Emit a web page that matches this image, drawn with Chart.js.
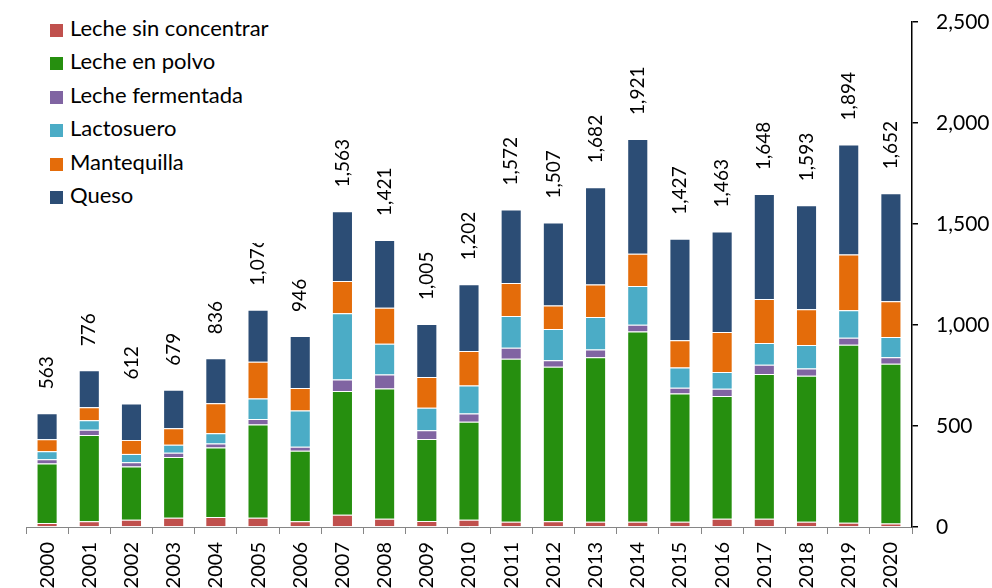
<!DOCTYPE html>
<html>
<head>
<meta charset="utf-8">
<script src="https://cdn.jsdelivr.net/npm/chart.js@4"></script>
<style>
  html, body { margin: 0; padding: 0; background: #fff; overflow: hidden; }
  #wrap { position: relative; width: 992px; height: 588px; }
  #legend {
    position: absolute; left: 44px; top: 6px; width: 236px; height: 237px;
    background: #fff; font-family: Lato, "Open Sans", sans-serif; font-size: 22px; color: #000;
  }
  .item { position: absolute; left: 6px; height: 24px; line-height: 24px; white-space: nowrap; }
  .box { display: inline-block; width: 13px; height: 13px; margin-right: 7px; vertical-align: -1px; }
</style>
</head>
<body>
<div id="wrap">
  <canvas id="barChart" width="992" height="588"></canvas>
  <div id="legend"></div>
</div>
<script>
const years = ["2000", "2001", "2002", "2003", "2004", "2005", "2006", "2007", "2008", "2009", "2010",
               "2011", "2012", "2013", "2014", "2015", "2016", "2017", "2018", "2019", "2020"];

const lecheSinConcentrar = [20, 28, 36, 46, 50, 46, 28, 61, 41, 30, 36, 26, 28, 26, 26, 26, 41, 41, 26, 21, 17];
const lecheEnPolvo = [294, 428, 263, 301, 343, 461, 349, 612, 645, 406, 485, 807, 765, 814, 942, 635, 608, 716, 723, 881, 791];
const lecheFermentada = [21, 25, 22, 20, 20, 28, 20, 57, 69, 43, 41, 54, 32, 39, 33, 28, 35, 46, 36, 35, 32];
const lactosuero = [40, 48, 41, 40, 51, 101, 180, 328, 152, 111, 139, 157, 155, 161, 192, 101, 83, 108, 116, 136, 100];
const mantequilla = [60, 64, 69, 82, 149, 182, 111, 160, 179, 152, 170, 164, 117, 160, 160, 135, 198, 218, 177, 276, 177];
const queso = [128, 183, 181, 190, 223, 258, 258, 345, 335, 263, 331, 364, 410, 482, 568, 502, 498, 519, 515, 545, 535];

const yTicks = [0, 500, 1000, 1500, 2000, 2500];

const seriesNames = ["Leche sin concentrar", "Leche en polvo", "Leche fermentada", "Lactosuero", "Mantequilla", "Queso"];
const seriesColors = ["#C0504D", "#268F0F", "#8064A2", "#4BACC6", "#E46C0A", "#2C4D75"];
const seriesData = [lecheSinConcentrar, lecheEnPolvo, lecheFermentada, lactosuero, mantequilla, queso];

const FONT = "Lato, 'Open Sans', sans-serif";

// totals written vertically above each bar
const totalLabels = {
  id: "totalLabels",
  afterDatasetsDraw(chart) {
    const ctx = chart.ctx;
    const x = chart.scales.x, y = chart.scales.y;
    ctx.save();
    ctx.font = "19px " + FONT;
    ctx.fillStyle = "#000";
    ctx.textAlign = "left";
    ctx.textBaseline = "middle";
    years.forEach((yr, i) => {
      let total = 0;
      seriesData.forEach(s => total += s[i]);
      const px = x.getPixelForValue(i);
      const py = y.getPixelForValue(total) - 24;
      ctx.save();
      ctx.translate(px, py);
      ctx.rotate(-Math.PI / 2);
      ctx.fillText(total.toLocaleString("en-US"), 0, 0);
      ctx.restore();
    });
    ctx.restore();
  }
};

const CHART = document.getElementById("barChart");
let barChart = new Chart(CHART, {
  type: "bar",
  data: {
    labels: years,
    datasets: seriesNames.map((name, k) => ({
      label: name,
      data: seriesData[k],
      backgroundColor: seriesColors[k],
      borderColor: "rgba(255,255,255,0.45)",
      borderWidth: 1,
      barPercentage: 0.5,
      categoryPercentage: 1.0
    }))
  },
  options: {
    responsive: false,
    animation: false,
    devicePixelRatio: 1,
    layout: { padding: { left: 26, top: 22, right: 0, bottom: 0 } },
    plugins: {
      legend: { display: false },
      tooltip: { enabled: false }
    },
    scales: {
      x: {
        stacked: true,
        afterFit: (s) => { s.height = 61; s.paddingLeft = 0; s.paddingRight = 0; },
        grid: { drawOnChartArea: false, drawTicks: true, tickLength: 7, color: "#868686", offset: true },
        border: { color: "#868686", width: 1 },
        ticks: {
          minRotation: 90, maxRotation: 90, padding: 8,
          color: "#000", font: { family: FONT, size: 20 }
        }
      },
      y: {
        stacked: true,
        position: "right",
        min: 0,
        max: 2500,
        afterFit: (s) => { s.width = 80; s.paddingTop = 0; s.paddingBottom = 0; },
        afterBuildTicks: (s) => { s.ticks = yTicks.map(v => ({ value: v })); },
        grid: { drawOnChartArea: false, drawTicks: true, tickLength: 6, color: "#000", lineWidth: 1.5 },
        border: { color: "#000", width: 1.5 },
        ticks: {
          padding: 18,
          color: "#000",
          font: { family: FONT, size: 21 },
          callback: (v) => v.toLocaleString("en-US")
        }
      }
    }
  },
  plugins: [totalLabels]
});

// legend drawn on top, from the same names and colours
const legendEl = document.getElementById("legend");
seriesNames.forEach((name, k) => {
  const row = document.createElement("div");
  row.className = "item";
  row.style.top = (10 + k * 33.4) + "px";
  row.innerHTML = '<span class="box" style="background:' + seriesColors[k] + '"></span>' + name;
  legendEl.appendChild(row);
});
</script>
</body>
</html>
